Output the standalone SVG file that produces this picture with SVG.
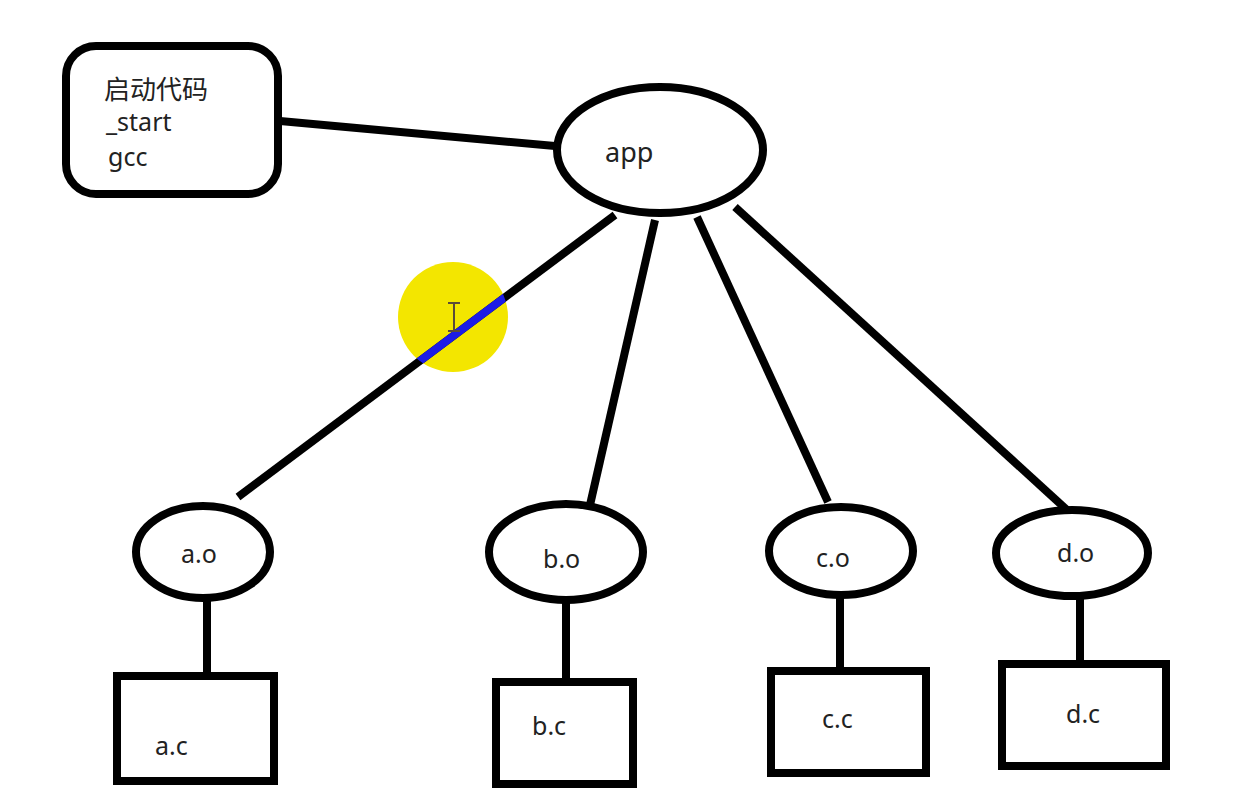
<svg xmlns="http://www.w3.org/2000/svg" width="1244" height="806" viewBox="0 0 1244 806">
<style>
.shape{fill:#ffffff;stroke:#000000;stroke-width:8}
.conn{stroke:#000000;stroke-width:8;stroke-linecap:butt;fill:none}
.lbl{font-family:"Noto Sans","Noto Sans CJK SC",sans-serif;font-size:25px;fill:#222222}
</style>
<defs>
<clipPath id="hl"><circle cx="453" cy="317" r="55"/></clipPath>
</defs>
<rect width="1244" height="806" fill="#ffffff"/>
<circle id="highlight" cx="453" cy="317" r="55" fill="#f3e600"/>
<g id="connectors">
<line class="conn" x1="280" y1="121" x2="555" y2="146"/>
<line class="conn" x1="615" y1="215" x2="238" y2="497"/>
<line class="conn" x1="655" y1="220" x2="590" y2="505"/>
<line class="conn" x1="697" y1="217" x2="828" y2="502"/>
<line class="conn" x1="735" y1="207" x2="1067" y2="510"/>
<line class="conn" x1="207" y1="600" x2="207" y2="674"/>
<line class="conn" x1="566" y1="602" x2="566" y2="680"/>
<line class="conn" x1="840" y1="596" x2="840" y2="669"/>
<line class="conn" x1="1080" y1="598" x2="1080" y2="662"/>
<line x1="615" y1="215" x2="238" y2="497" stroke="#1c1ce6" stroke-width="8" clip-path="url(#hl)"/>
</g>
<g id="start">
<rect class="shape" x="66" y="46" width="212" height="148" rx="30"/>
<text class="lbl" x="104" y="99" style="font-size:26px">启动代码</text>
<text class="lbl" x="106" y="131">_start</text>
<text class="lbl" x="108" y="166">gcc</text>
</g>
<g id="app">
<ellipse class="shape" cx="660" cy="150" rx="103" ry="63"/>
<text class="lbl" x="605" y="162" style="font-size:27px">app</text>
</g>
<g id="ao">
<ellipse class="shape" cx="203" cy="552" rx="67" ry="46"/>
<text class="lbl" x="181" y="563">a.o</text>
</g>
<g id="bo">
<ellipse class="shape" cx="566" cy="552" rx="77" ry="48"/>
<text class="lbl" x="543" y="568">b.o</text>
</g>
<g id="co">
<ellipse class="shape" cx="841" cy="551" rx="72" ry="44"/>
<text class="lbl" x="816" y="567">c.o</text>
</g>
<g id="do">
<ellipse class="shape" cx="1072" cy="553" rx="76" ry="43"/>
<text class="lbl" x="1057" y="562">d.o</text>
</g>
<g id="ac">
<rect class="shape" x="117" y="676" width="157" height="105"/>
<text class="lbl" x="155" y="755">a.c</text>
</g>
<g id="bc">
<rect class="shape" x="496" y="682" width="137" height="102"/>
<text class="lbl" x="532" y="735">b.c</text>
</g>
<g id="cc">
<rect class="shape" x="771" y="671" width="155" height="102"/>
<text class="lbl" x="822" y="728">c.c</text>
</g>
<g id="dc">
<rect class="shape" x="1002" y="664" width="164" height="102"/>
<text class="lbl" x="1066" y="723">d.c</text>
</g>
<path id="cursor" d="M448 303 H460 M454 303 V331 M448 331 H460" stroke="#5a4a3a" stroke-width="2" fill="none"/>
</svg>
